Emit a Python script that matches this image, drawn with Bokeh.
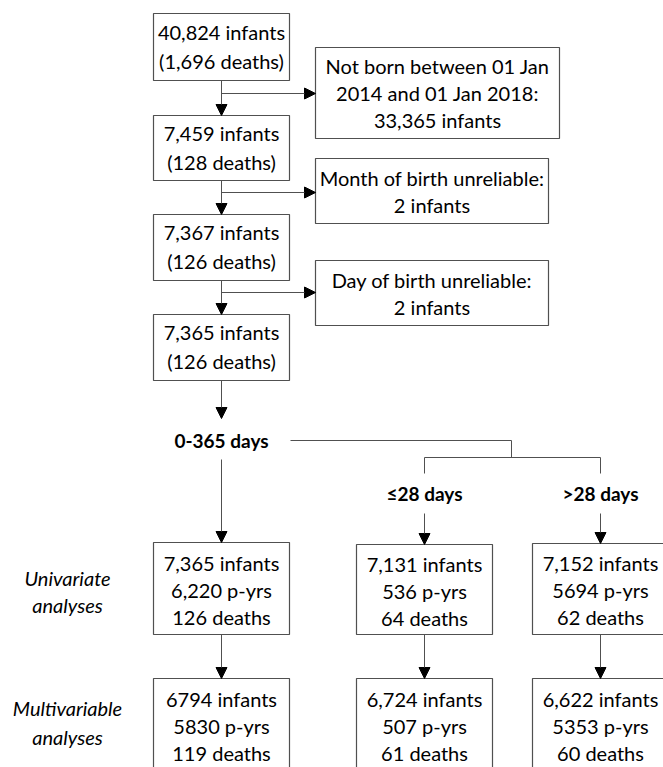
from bokeh.plotting import figure
from bokeh.models import Range1d, Arrow, NormalHead, ColumnDataSource
from bokeh.core.properties import value
from bokeh.embed import file_html
from bokeh.resources import INLINE

# ---------------- data ----------------
flow_infants = ["40,824", "7,459", "7,367", "7,365"]
flow_deaths = ["1,696", "128", "126", "126"]
excl_text = [
    ["Not born between 01 Jan", "2014 and 01 Jan 2018:", "33,365 infants"],
    ["Month of birth unreliable:", "2 infants"],
    ["Day of birth unreliable:", "2 infants"],
]
groups = ["0-365 days", "\u226428 days", ">28 days"]
univ_infants = ["7,365", "7,131", "7,152"]
univ_pyrs = ["6,220", "536", "5694"]
univ_deaths = ["126", "64", "62"]
multi_infants = ["6794", "6,724", "6,622"]
multi_pyrs = ["5830", "507", "5353"]
multi_deaths = ["119", "61", "60"]
row_labels = [["Univariate", "analyses"], ["Multivariable", "analyses"]]

# ---------------- layout ----------------
FONT = value("Lato")
FS = "20px"
LINE = "#505050"
main_x = 221
main_box = [(13, 80), (115, 180), (214, 280), (314, 380)]
main_lr = (153, 289)
excl_box = [(315, 559, 47, 138), (315, 548, 158, 223), (315, 548, 260, 325)]
branch_y = [93, 192, 292]
col_x = [221, 424, 600]
col_half = 68
univ_tb = [(542, 634), (544, 634), (543, 634)]
multi_tb = (678, 800)
label_y = [440, 493, 493]

p = figure(width=663, height=767, x_range=Range1d(0, 663), y_range=Range1d(767, 0),
           output_backend="svg", toolbar_location=None,
           x_axis_location=None, y_axis_location=None, min_border=0)
p.grid.visible = False
p.outline_line_color = None
p.background_fill_color = "white"

def box(l, r, t, b):
    p.quad(left=l, right=r, top=t, bottom=b, fill_color="white",
           line_color=LINE, line_width=1.2)

def lines_text(xc, yc, lines, spacing, style="normal", size=FS):
    n = len(lines)
    ys = [yc + (i - (n - 1) / 2) * spacing for i in range(n)]
    p.text(x=[xc] * n, y=ys, text=lines, text_align="center", text_baseline="middle",
           text_font=FONT, text_font_size=size, text_color="black",
           text_font_style=style)

arrows = dict(x0=[], y0=[], x1=[], y1=[])
def arrow(x0, y0, x1, y1):
    arrows["x0"].append(x0); arrows["y0"].append(y0)
    arrows["x1"].append(x1); arrows["y1"].append(y1)

# main flow boxes
for i, (t, b) in enumerate(main_box):
    box(main_lr[0], main_lr[1], t, b)
    lines_text(main_x, (t + b) / 2 - 1, [f"{flow_infants[i]} infants", f"({flow_deaths[i]} deaths)"], 29)
    if i < len(main_box) - 1:
        arrow(main_x, b, main_x, main_box[i + 1][0])

# exclusion boxes
for i, (l, r, t, b) in enumerate(excl_box):
    box(l, r, t, b)
    lines_text((l + r) / 2, (t + b) / 2, excl_text[i], 27)
    arrow(main_x, branch_y[i], l, branch_y[i])

# to 0-365 days
arrow(main_x, main_box[-1][1], main_x, 418)

# group labels
for i, g in enumerate(groups):
    lines_text(col_x[i], label_y[i], [g], 0, style="bold", size="19px")

# connector tree
seg = dict(x0=[290, 511, 424, 424, 600], y0=[440, 440, 457, 457, 457],
           x1=[511, 511, 600, 424, 600], y1=[440, 457, 457, 473, 473])
p.segment(x0="x0", y0="y0", x1="x1", y1="y1", source=ColumnDataSource(seg),
          line_color=LINE, line_width=1)

# arrows to univariate boxes
arrow(col_x[0], 459, col_x[0], univ_tb[0][0])
arrow(col_x[1], 513, col_x[1], univ_tb[1][0])
arrow(col_x[2], 513, col_x[2], univ_tb[2][0])

# analysis boxes
for i in range(3):
    t, b = univ_tb[i]
    box(col_x[i] - col_half, col_x[i] + col_half, t, b)
    lines_text(col_x[i], (t + b) / 2 + 1,
               [f"{univ_infants[i]} infants", f"{univ_pyrs[i]} p-yrs", f"{univ_deaths[i]} deaths"], 27)
    arrow(col_x[i], b, col_x[i], multi_tb[0])
    box(col_x[i] - col_half, col_x[i] + col_half, multi_tb[0], multi_tb[1])
    lines_text(col_x[i], 725,
               [f"{multi_infants[i]} infants", f"{multi_pyrs[i]} p-yrs", f"{multi_deaths[i]} deaths"], 27)

# row labels
lines_text(67, 590.5, row_labels[0], 27, style="italic")
lines_text(67, 721.5, row_labels[1], 29, style="italic")

p.add_layout(Arrow(end=NormalHead(size=11, fill_color="black", line_color="black"),
                   x_start="x0", y_start="y0", x_end="x1", y_end="y1",
                   source=ColumnDataSource(arrows), line_color=LINE, line_width=1))

open("out.html", "w").write(file_html(p, INLINE))
